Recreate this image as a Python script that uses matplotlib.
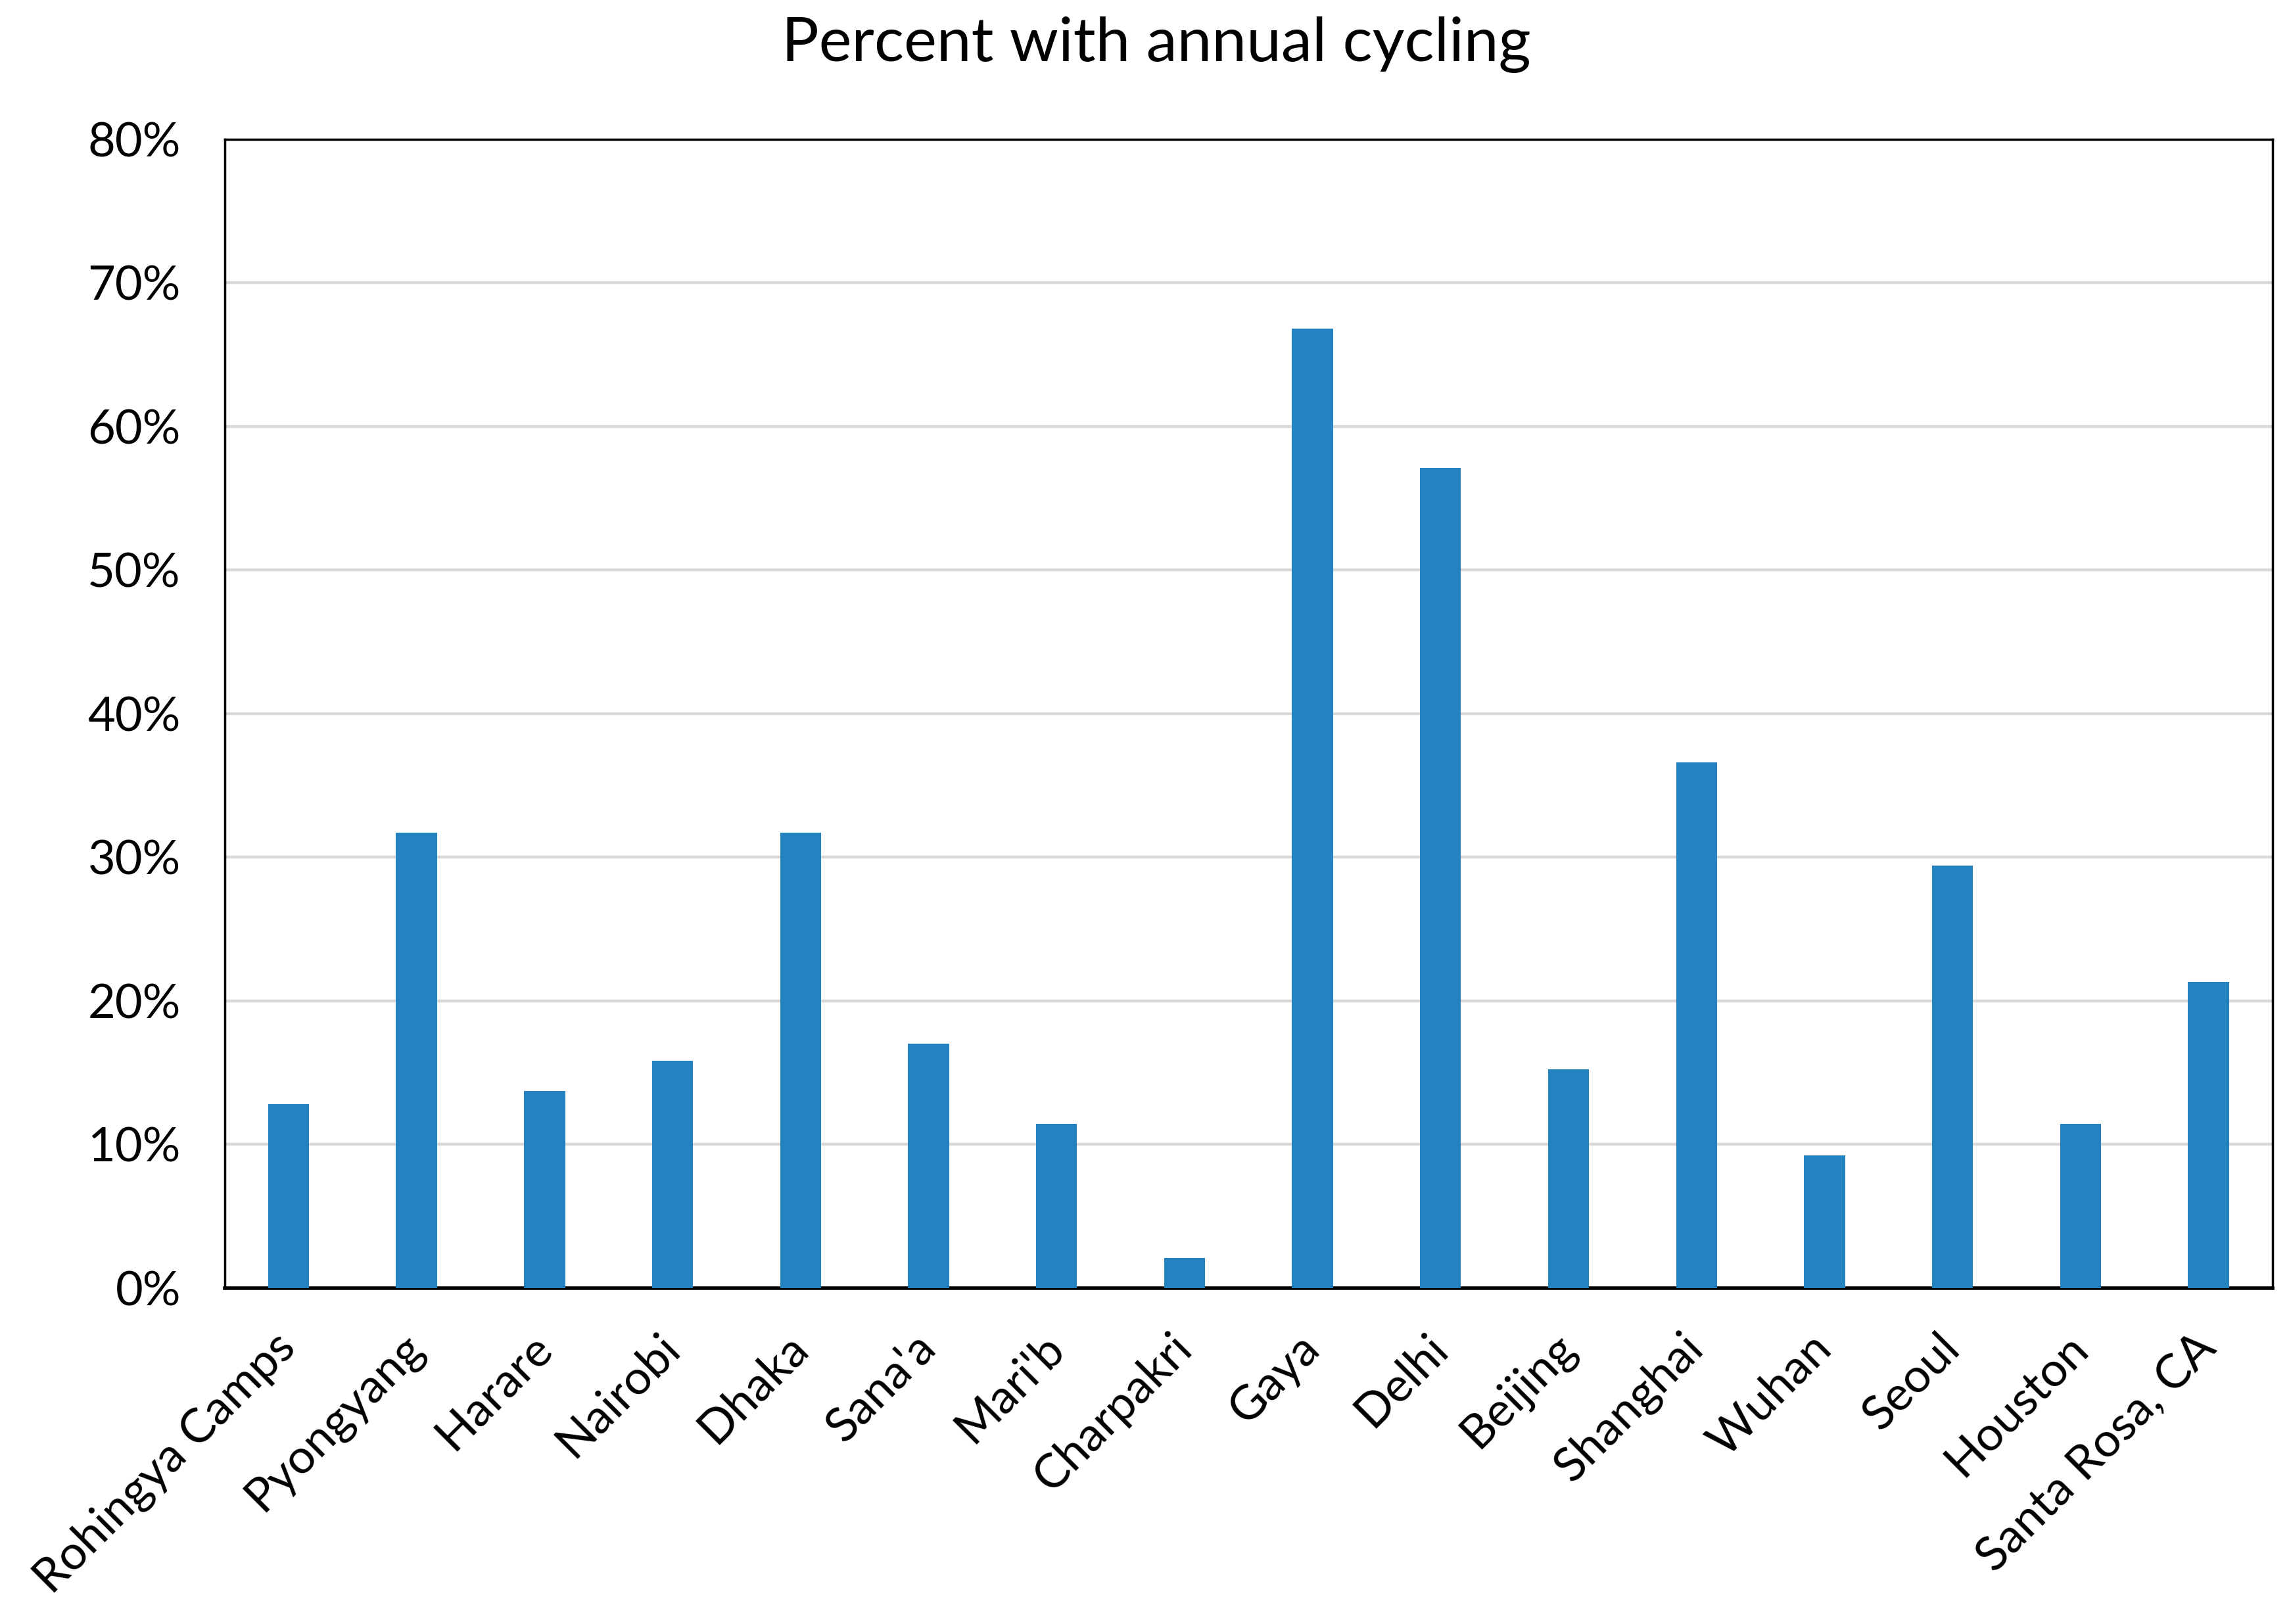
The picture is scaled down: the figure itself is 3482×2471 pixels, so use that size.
import matplotlib
matplotlib.use('Agg')
import matplotlib.pyplot as plt
from matplotlib.ticker import FuncFormatter

plt.rcParams['font.family'] = ['Lato', 'DejaVu Sans']

# data
cities = ['Rohingya Camps', 'Pyongyang', 'Harare', 'Nairobi', 'Dhaka', "Sana'a",
          "Mari'b", 'Charpakri', 'Gaya', 'Delhi', 'Beijing', 'Shanghai', 'Wuhan',
          'Seoul', 'Houston', 'Santa Rosa, CA']
pct_cycling = [12.8, 31.7, 13.7, 15.8, 31.7, 17.0, 11.4, 2.1, 66.8, 57.1,
               15.2, 36.6, 9.2, 29.4, 11.4, 21.3]
y_ticks = [0, 10, 20, 30, 40, 50, 60, 70, 80]

fig = plt.figure(figsize=(34.82, 24.71), dpi=100)
ax = fig.add_axes([0.0981, 0.207, 0.8947, 0.7074])

x = list(range(len(cities)))
ax.bar(x, pct_cycling, width=0.32, color='#2582c1', zorder=3)

ax.set_xlim(-0.5, len(cities) - 0.5)
ax.set_ylim(0, 80)
ax.set_yticks(y_ticks)
ax.yaxis.set_major_formatter(FuncFormatter(lambda v, p: '%d%%' % v))
ax.grid(axis='y', color='#d9d9d9', linewidth=3.2, zorder=0)
ax.set_axisbelow(True)

ax.set_xticks(x)
ax.set_xticklabels(cities, rotation=45, ha='right', va='center', rotation_mode='anchor')
ax.tick_params(axis='x', length=0, labelsize=52, pad=58)
ax.tick_params(axis='y', length=0, labelsize=52, pad=48)

for side in ['left', 'right', 'top']:
    ax.spines[side].set_linewidth(2.5)
    ax.spines[side].set_color('black')
ax.spines['bottom'].set_linewidth(4)
ax.spines['bottom'].set_color('black')

fig.text(0.505, 0.99, 'Percent with annual cycling', ha='center', va='top', fontsize=68)

fig.savefig('out.png', dpi=100)
